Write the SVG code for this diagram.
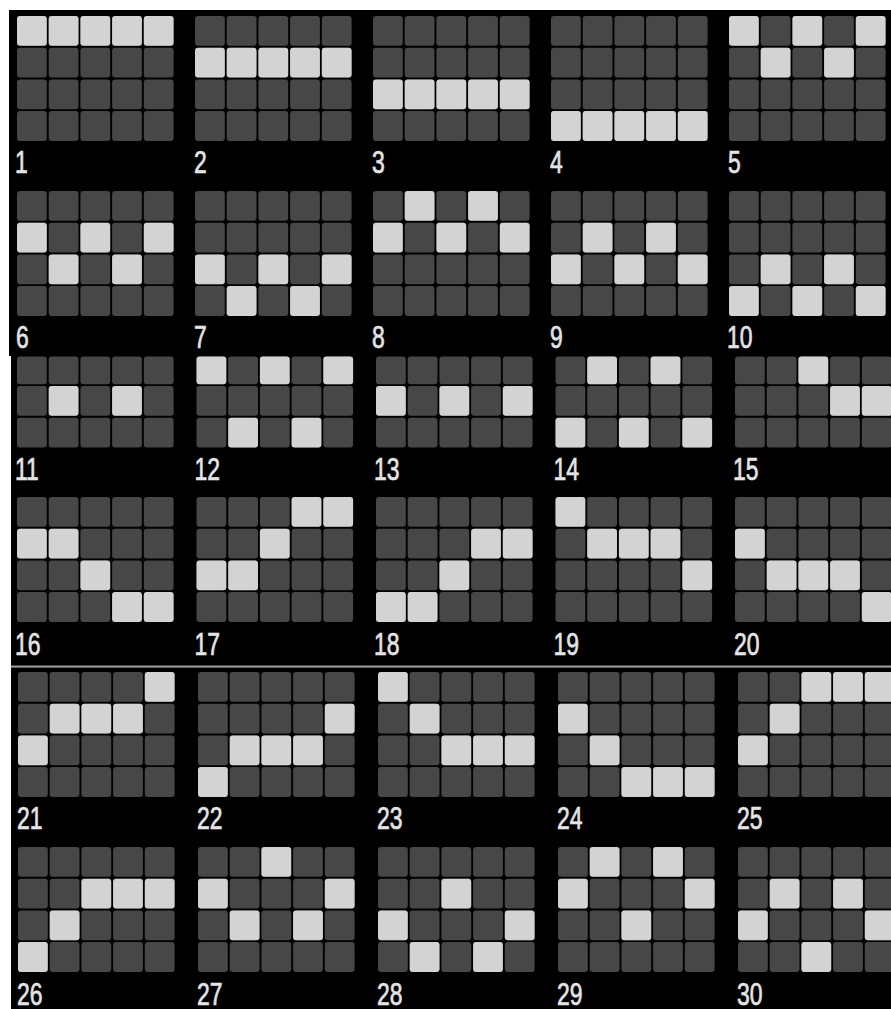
<svg xmlns="http://www.w3.org/2000/svg" xmlns:xlink="http://www.w3.org/1999/xlink" width="891" height="1009" viewBox="0 0 891 1009">
<style>
.d{fill:#474747}
.l{fill:#d3d3d3}
.n{font-family:"Liberation Sans",Arial,sans-serif;font-size:31px;fill:#e4e4e4;stroke:#e4e4e4;stroke-width:0.7px}
</style>
<defs>
<rect id="L" class="l" width="29.8" height="29.8" rx="3"/>
<rect id="La" class="l" width="29.8" height="27.7" rx="3"/>
<g id="g4">
<rect class="d" x="0" y="0" width="29.8" height="29.8" rx="3"/><rect class="d" x="31.7" y="0" width="29.8" height="29.8" rx="3"/><rect class="d" x="63.4" y="0" width="29.8" height="29.8" rx="3"/><rect class="d" x="95.1" y="0" width="29.8" height="29.8" rx="3"/><rect class="d" x="126.8" y="0" width="29.8" height="29.8" rx="3"/>
<rect class="d" x="0" y="31.7" width="29.8" height="29.8" rx="3"/><rect class="d" x="31.7" y="31.7" width="29.8" height="29.8" rx="3"/><rect class="d" x="63.4" y="31.7" width="29.8" height="29.8" rx="3"/><rect class="d" x="95.1" y="31.7" width="29.8" height="29.8" rx="3"/><rect class="d" x="126.8" y="31.7" width="29.8" height="29.8" rx="3"/>
<rect class="d" x="0" y="63.4" width="29.8" height="29.8" rx="3"/><rect class="d" x="31.7" y="63.4" width="29.8" height="29.8" rx="3"/><rect class="d" x="63.4" y="63.4" width="29.8" height="29.8" rx="3"/><rect class="d" x="95.1" y="63.4" width="29.8" height="29.8" rx="3"/><rect class="d" x="126.8" y="63.4" width="29.8" height="29.8" rx="3"/>
<rect class="d" x="0" y="95.1" width="29.8" height="29.8" rx="3"/><rect class="d" x="31.7" y="95.1" width="29.8" height="29.8" rx="3"/><rect class="d" x="63.4" y="95.1" width="29.8" height="29.8" rx="3"/><rect class="d" x="95.1" y="95.1" width="29.8" height="29.8" rx="3"/><rect class="d" x="126.8" y="95.1" width="29.8" height="29.8" rx="3"/>
</g>
<g id="g3">
<rect class="d" x="0" y="0" width="29.8" height="27.7" rx="3"/><rect class="d" x="31.7" y="0" width="29.8" height="27.7" rx="3"/><rect class="d" x="63.4" y="0" width="29.8" height="27.7" rx="3"/><rect class="d" x="95.1" y="0" width="29.8" height="27.7" rx="3"/><rect class="d" x="126.8" y="0" width="29.8" height="27.7" rx="3"/>
<rect class="d" x="0" y="29.5" width="29.8" height="29.8" rx="3"/><rect class="d" x="31.7" y="29.5" width="29.8" height="29.8" rx="3"/><rect class="d" x="63.4" y="29.5" width="29.8" height="29.8" rx="3"/><rect class="d" x="95.1" y="29.5" width="29.8" height="29.8" rx="3"/><rect class="d" x="126.8" y="29.5" width="29.8" height="29.8" rx="3"/>
<rect class="d" x="0" y="61.2" width="29.8" height="29.8" rx="3"/><rect class="d" x="31.7" y="61.2" width="29.8" height="29.8" rx="3"/><rect class="d" x="63.4" y="61.2" width="29.8" height="29.8" rx="3"/><rect class="d" x="95.1" y="61.2" width="29.8" height="29.8" rx="3"/><rect class="d" x="126.8" y="61.2" width="29.8" height="29.8" rx="3"/>
</g>
</defs>
<rect width="891" height="1009" fill="#ffffff"/>
<rect x="9" y="10" width="882" height="346" fill="#000"/>
<rect x="11" y="356" width="880" height="310" fill="#000"/>
<rect x="11" y="665.5" width="880" height="2" fill="#9a9a9a"/>
<rect x="11" y="667.5" width="880" height="341.5" fill="#000"/>

<g id="payline-1" transform="translate(17,16)"><use href="#g4"/><use href="#L" x="0" y="0"/><use href="#L" x="31.7" y="0"/><use href="#L" x="63.4" y="0"/><use href="#L" x="95.1" y="0"/><use href="#L" x="126.8" y="0"/><text class="n" transform="translate(-2,157) scale(0.74,1)">1</text></g>
<g id="payline-2" transform="translate(195,16)"><use href="#g4"/><use href="#L" x="0" y="31.7"/><use href="#L" x="31.7" y="31.7"/><use href="#L" x="63.4" y="31.7"/><use href="#L" x="95.1" y="31.7"/><use href="#L" x="126.8" y="31.7"/><text class="n" transform="translate(-1,157) scale(0.74,1)">2</text></g>
<g id="payline-3" transform="translate(373,16)"><use href="#g4"/><use href="#L" x="0" y="63.4"/><use href="#L" x="31.7" y="63.4"/><use href="#L" x="63.4" y="63.4"/><use href="#L" x="95.1" y="63.4"/><use href="#L" x="126.8" y="63.4"/><text class="n" transform="translate(-1,157) scale(0.74,1)">3</text></g>
<g id="payline-4" transform="translate(551,16)"><use href="#g4"/><use href="#L" x="0" y="95.1"/><use href="#L" x="31.7" y="95.1"/><use href="#L" x="63.4" y="95.1"/><use href="#L" x="95.1" y="95.1"/><use href="#L" x="126.8" y="95.1"/><text class="n" transform="translate(-1,157) scale(0.74,1)">4</text></g>
<g id="payline-5" transform="translate(729,16)"><use href="#g4"/><use href="#L" x="0" y="0"/><use href="#L" x="31.7" y="31.7"/><use href="#L" x="63.4" y="0"/><use href="#L" x="95.1" y="31.7"/><use href="#L" x="126.8" y="0"/><text class="n" transform="translate(-1,157) scale(0.74,1)">5</text></g>

<g id="payline-6" transform="translate(17,191)"><use href="#g4"/><use href="#L" x="0" y="31.7"/><use href="#L" x="31.7" y="63.4"/><use href="#L" x="63.4" y="31.7"/><use href="#L" x="95.1" y="63.4"/><use href="#L" x="126.8" y="31.7"/><text class="n" transform="translate(-1,157) scale(0.74,1)">6</text></g>
<g id="payline-7" transform="translate(195,191)"><use href="#g4"/><use href="#L" x="0" y="63.4"/><use href="#L" x="31.7" y="95.1"/><use href="#L" x="63.4" y="63.4"/><use href="#L" x="95.1" y="95.1"/><use href="#L" x="126.8" y="63.4"/><text class="n" transform="translate(-1,157) scale(0.74,1)">7</text></g>
<g id="payline-8" transform="translate(373,191)"><use href="#g4"/><use href="#L" x="0" y="31.7"/><use href="#L" x="31.7" y="0"/><use href="#L" x="63.4" y="31.7"/><use href="#L" x="95.1" y="0"/><use href="#L" x="126.8" y="31.7"/><text class="n" transform="translate(-1,157) scale(0.74,1)">8</text></g>
<g id="payline-9" transform="translate(551,191)"><use href="#g4"/><use href="#L" x="0" y="63.4"/><use href="#L" x="31.7" y="31.7"/><use href="#L" x="63.4" y="63.4"/><use href="#L" x="95.1" y="31.7"/><use href="#L" x="126.8" y="63.4"/><text class="n" transform="translate(-1,157) scale(0.74,1)">9</text></g>
<g id="payline-10" transform="translate(729,191)"><use href="#g4"/><use href="#L" x="0" y="95.1"/><use href="#L" x="31.7" y="63.4"/><use href="#L" x="63.4" y="95.1"/><use href="#L" x="95.1" y="63.4"/><use href="#L" x="126.8" y="95.1"/><text class="n" transform="translate(-2,157) scale(0.74,1)">10</text></g>

<g id="payline-11" transform="translate(17,356.5)"><use href="#g3"/><use href="#L" x="31.7" y="29.5"/><use href="#L" x="95.1" y="29.5"/><text class="n" transform="translate(-2,123.5) scale(0.74,1)">11</text></g>
<g id="payline-12" transform="translate(196.5,356.5)"><use href="#g3"/><use href="#La" x="0" y="0"/><use href="#La" x="63.4" y="0"/><use href="#La" x="126.8" y="0"/><use href="#L" x="31.7" y="61.2"/><use href="#L" x="95.1" y="61.2"/><text class="n" transform="translate(-2,123.5) scale(0.74,1)">12</text></g>
<g id="payline-13" transform="translate(376,356.5)"><use href="#g3"/><use href="#L" x="0" y="29.5"/><use href="#L" x="63.4" y="29.5"/><use href="#L" x="126.8" y="29.5"/><text class="n" transform="translate(-2,123.5) scale(0.74,1)">13</text></g>
<g id="payline-14" transform="translate(555.5,356.5)"><use href="#g3"/><use href="#La" x="31.7" y="0"/><use href="#La" x="95.1" y="0"/><use href="#L" x="0" y="61.2"/><use href="#L" x="63.4" y="61.2"/><use href="#L" x="126.8" y="61.2"/><text class="n" transform="translate(-2,123.5) scale(0.74,1)">14</text></g>
<g id="payline-15" transform="translate(735,356.5)"><use href="#g3"/><use href="#La" x="63.4" y="0"/><use href="#L" x="95.1" y="29.5"/><use href="#L" x="126.8" y="29.5"/><text class="n" transform="translate(-2,123.5) scale(0.74,1)">15</text></g>

<g id="payline-16" transform="translate(17,497)"><use href="#g4"/><use href="#L" x="0" y="31.7"/><use href="#L" x="31.7" y="31.7"/><use href="#L" x="63.4" y="63.4"/><use href="#L" x="95.1" y="95.1"/><use href="#L" x="126.8" y="95.1"/><text class="n" transform="translate(-2,158) scale(0.74,1)">16</text></g>
<g id="payline-17" transform="translate(196.5,497)"><use href="#g4"/><use href="#L" x="0" y="63.4"/><use href="#L" x="31.7" y="63.4"/><use href="#L" x="63.4" y="31.7"/><use href="#L" x="95.1" y="0"/><use href="#L" x="126.8" y="0"/><text class="n" transform="translate(-2,158) scale(0.74,1)">17</text></g>
<g id="payline-18" transform="translate(376,497)"><use href="#g4"/><use href="#L" x="0" y="95.1"/><use href="#L" x="31.7" y="95.1"/><use href="#L" x="63.4" y="63.4"/><use href="#L" x="95.1" y="31.7"/><use href="#L" x="126.8" y="31.7"/><text class="n" transform="translate(-2,158) scale(0.74,1)">18</text></g>
<g id="payline-19" transform="translate(555.5,497)"><use href="#g4"/><use href="#L" x="0" y="0"/><use href="#L" x="31.7" y="31.7"/><use href="#L" x="63.4" y="31.7"/><use href="#L" x="95.1" y="31.7"/><use href="#L" x="126.8" y="63.4"/><text class="n" transform="translate(-2,158) scale(0.74,1)">19</text></g>
<g id="payline-20" transform="translate(735,497)"><use href="#g4"/><use href="#L" x="0" y="31.7"/><use href="#L" x="31.7" y="63.4"/><use href="#L" x="63.4" y="63.4"/><use href="#L" x="95.1" y="63.4"/><use href="#L" x="126.8" y="95.1"/><text class="n" transform="translate(-1,158) scale(0.74,1)">20</text></g>

<g id="payline-21" transform="translate(18,672)"><use href="#g4"/><use href="#L" x="0" y="63.4"/><use href="#L" x="31.7" y="31.7"/><use href="#L" x="63.4" y="31.7"/><use href="#L" x="95.1" y="31.7"/><use href="#L" x="126.8" y="0"/><text class="n" transform="translate(-1,157) scale(0.74,1)">21</text></g>
<g id="payline-22" transform="translate(198,672)"><use href="#g4"/><use href="#L" x="0" y="95.1"/><use href="#L" x="31.7" y="63.4"/><use href="#L" x="63.4" y="63.4"/><use href="#L" x="95.1" y="63.4"/><use href="#L" x="126.8" y="31.7"/><text class="n" transform="translate(-1,157) scale(0.74,1)">22</text></g>
<g id="payline-23" transform="translate(378,672)"><use href="#g4"/><use href="#L" x="0" y="0"/><use href="#L" x="31.7" y="31.7"/><use href="#L" x="63.4" y="63.4"/><use href="#L" x="95.1" y="63.4"/><use href="#L" x="126.8" y="63.4"/><text class="n" transform="translate(-1,157) scale(0.74,1)">23</text></g>
<g id="payline-24" transform="translate(558,672)"><use href="#g4"/><use href="#L" x="0" y="31.7"/><use href="#L" x="31.7" y="63.4"/><use href="#L" x="63.4" y="95.1"/><use href="#L" x="95.1" y="95.1"/><use href="#L" x="126.8" y="95.1"/><text class="n" transform="translate(-1,157) scale(0.74,1)">24</text></g>
<g id="payline-25" transform="translate(738,672)"><use href="#g4"/><use href="#L" x="0" y="63.4"/><use href="#L" x="31.7" y="31.7"/><use href="#L" x="63.4" y="0"/><use href="#L" x="95.1" y="0"/><use href="#L" x="126.8" y="0"/><text class="n" transform="translate(-1,157) scale(0.74,1)">25</text></g>

<g id="payline-26" transform="translate(18,847)"><use href="#g4"/><use href="#L" x="0" y="95.1"/><use href="#L" x="31.7" y="63.4"/><use href="#L" x="63.4" y="31.7"/><use href="#L" x="95.1" y="31.7"/><use href="#L" x="126.8" y="31.7"/><text class="n" transform="translate(-1,157.5) scale(0.74,1)">26</text></g>
<g id="payline-27" transform="translate(198,847)"><use href="#g4"/><use href="#L" x="0" y="31.7"/><use href="#L" x="31.7" y="63.4"/><use href="#L" x="63.4" y="0"/><use href="#L" x="95.1" y="63.4"/><use href="#L" x="126.8" y="31.7"/><text class="n" transform="translate(-1,157.5) scale(0.74,1)">27</text></g>
<g id="payline-28" transform="translate(378,847)"><use href="#g4"/><use href="#L" x="0" y="63.4"/><use href="#L" x="31.7" y="95.1"/><use href="#L" x="63.4" y="31.7"/><use href="#L" x="95.1" y="95.1"/><use href="#L" x="126.8" y="63.4"/><text class="n" transform="translate(-1,157.5) scale(0.74,1)">28</text></g>
<g id="payline-29" transform="translate(558,847)"><use href="#g4"/><use href="#L" x="0" y="31.7"/><use href="#L" x="31.7" y="0"/><use href="#L" x="63.4" y="63.4"/><use href="#L" x="95.1" y="0"/><use href="#L" x="126.8" y="31.7"/><text class="n" transform="translate(-1,157.5) scale(0.74,1)">29</text></g>
<g id="payline-30" transform="translate(738,847)"><use href="#g4"/><use href="#L" x="0" y="63.4"/><use href="#L" x="31.7" y="31.7"/><use href="#L" x="63.4" y="95.1"/><use href="#L" x="95.1" y="31.7"/><use href="#L" x="126.8" y="63.4"/><text class="n" transform="translate(-1,157.5) scale(0.74,1)">30</text></g>
<g id="connectors"/>
</svg>
